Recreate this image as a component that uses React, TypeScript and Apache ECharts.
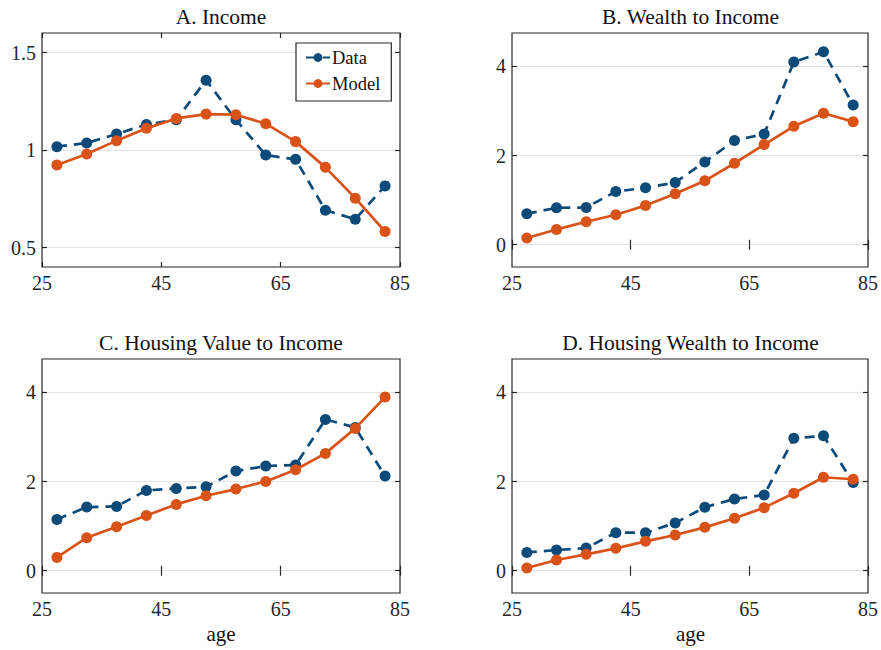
import React, { useEffect, useRef } from "react";
import * as echarts from "echarts";

const ages = [27.5, 32.5, 37.5, 42.5, 47.5, 52.5, 57.5, 62.5, 67.5, 72.5, 77.5, 82.5];

const incomeData = [1.017, 1.036, 1.082, 1.131, 1.155, 1.358, 1.155, 0.974, 0.952, 0.691, 0.645, 0.816];
const incomeModel = [0.923, 0.98, 1.048, 1.111, 1.162, 1.184, 1.181, 1.135, 1.043, 0.911, 0.753, 0.582];

const wealthData = [0.694, 0.828, 0.836, 1.194, 1.276, 1.396, 1.858, 2.336, 2.485, 4.097, 4.328, 3.134];
const wealthModel = [0.149, 0.343, 0.515, 0.672, 0.881, 1.142, 1.433, 1.828, 2.246, 2.657, 2.948, 2.761];

const hvalData = [1.151, 1.428, 1.443, 1.802, 1.847, 1.884, 2.236, 2.348, 2.37, 3.394, 3.215, 2.123];
const hvalModel = [0.299, 0.74, 0.987, 1.241, 1.488, 1.682, 1.832, 2.004, 2.265, 2.632, 3.193, 3.895];

const hwealthData = [0.411, 0.464, 0.509, 0.853, 0.853, 1.071, 1.423, 1.61, 1.7, 2.973, 3.026, 1.977];
const hwealthModel = [0.06, 0.24, 0.367, 0.502, 0.659, 0.801, 0.973, 1.176, 1.415, 1.737, 2.097, 2.052];

const panelTitles = ["A. Income", "B. Wealth to Income", "C. Housing Value to Income", "D. Housing Wealth to Income"];
const xTicks = [25, 45, 65, 85];
const yTicksA = [0.5, 1, 1.5];
const yTicksOther = [0, 2, 4];
const xLabel = "age";

const BLUE = "#0c4a7a";
const ORANGE = "#d95319";
const AXIS = "#262626";
const FONT = "Liberation Serif";

export default function App() {
  const ref = useRef<HTMLDivElement>(null);
  useEffect(() => {
    if (!ref.current) return;
    const chart = echarts.init(ref.current, null, { renderer: "svg" });

    const panels = [
      { data: incomeData, model: incomeModel, min: 0.4, max: 1.6, yTicks: yTicksA },
      { data: wealthData, model: wealthModel, min: -0.5, max: 4.75, yTicks: yTicksOther },
      { data: hvalData, model: hvalModel, min: -0.5, max: 4.75, yTicks: yTicksOther },
      { data: hwealthData, model: hwealthModel, min: -0.5, max: 4.75, yTicks: yTicksOther },
    ];
    const boxes = [
      { left: 42, top: 33, width: 358, height: 234 },
      { left: 512, top: 33, width: 357, height: 234 },
      { left: 42, top: 359, width: 358, height: 234 },
      { left: 512, top: 359, width: 357, height: 234 },
    ];

    const grid: any[] = [];
    const xAxis: any[] = [];
    const yAxis: any[] = [];
    const series: any[] = [];
    const graphic: any[] = [];

    panels.forEach((p, i) => {
      const b = boxes[i];
      grid.push({ ...b, show: true, borderColor: AXIS, borderWidth: 1.2, backgroundColor: "transparent", containLabel: false });
      const tickStyle = { inside: true, length: 5, lineStyle: { color: AXIS, width: 1.2 } };
      xAxis.push({
        gridIndex: i, type: "value", min: 25, max: 85, position: "bottom",
        axisLine: { show: false },
        axisTick: { ...tickStyle, customValues: xTicks },
        axisLabel: { customValues: xTicks, fontSize: 20, fontFamily: FONT, color: AXIS, margin: 6 },
        splitLine: { show: false },
      });
      xAxis.push({
        gridIndex: i, type: "value", min: 25, max: 85, position: "top",
        axisLine: { show: false },
        axisTick: { ...tickStyle, customValues: xTicks },
        axisLabel: { show: false },
        splitLine: { show: false },
      });
      yAxis.push({
        gridIndex: i, type: "value", min: p.min, max: p.max, position: "left",
        axisLine: { show: false },
        axisTick: { ...tickStyle, customValues: p.yTicks },
        axisLabel: { customValues: p.yTicks, fontSize: 20, fontFamily: FONT, color: AXIS, margin: 6 },
        splitLine: { show: true, lineStyle: { color: "#e2e2e2", width: 1.2 } },
      });
      yAxis.push({
        gridIndex: i, type: "value", min: p.min, max: p.max, position: "right",
        axisLine: { show: false },
        axisTick: { ...tickStyle, customValues: p.yTicks },
        axisLabel: { show: false },
        splitLine: { show: false },
      });
      series.push({
        name: "Data", type: "line", xAxisIndex: 2 * i, yAxisIndex: 2 * i,
        data: ages.map((a, k) => [a, p.data[k]]),
        symbol: "circle", symbolSize: 11, showSymbol: true,
        lineStyle: { color: BLUE, width: 2.7, type: [10, 7] },
        itemStyle: { color: BLUE },
        z: 3,
      });
      series.push({
        name: "Model", type: "line", xAxisIndex: 2 * i, yAxisIndex: 2 * i,
        data: ages.map((a, k) => [a, p.model[k]]),
        symbol: "circle", symbolSize: 11, showSymbol: true,
        lineStyle: { color: ORANGE, width: 2.7 },
        itemStyle: { color: ORANGE },
        z: 4,
      });
      const cx = b.left + b.width / 2;
      graphic.push({
        type: "text", x: cx, y: b.top - 16,
        style: { text: panelTitles[i], fontSize: 21.5, fontFamily: FONT, fill: "#111", textAlign: "center", textVerticalAlign: "middle" },
      });
      if (i >= 2) {
        graphic.push({
          type: "text", x: cx, y: 634,
          style: { text: xLabel, fontSize: 21, fontFamily: FONT, fill: "#111", textAlign: "center", textVerticalAlign: "middle" },
        });
      }
    });

    chart.setOption({
      animation: false,
      backgroundColor: "#fff",
      grid, xAxis, yAxis, series, graphic,
      legend: {
        data: ["Data", "Model"],
        orient: "vertical",
        left: 296, top: 43,
        padding: [5, 11, 8, 9],
        itemGap: 7,
        itemWidth: 24,
        itemHeight: 11,
        backgroundColor: "#fff",
        borderColor: AXIS,
        borderWidth: 1.2,
        borderRadius: 0,
        textStyle: { fontSize: 18.5, lineHeight: 18, fontFamily: FONT, color: "#111", padding: [0, 0, 0, -3] },
      },
    });
    return () => chart.dispose();
  }, []);
  return <div ref={ref} style={{ position: "fixed", left: 0, top: 0, width: 881, height: 650 }} />;
}
